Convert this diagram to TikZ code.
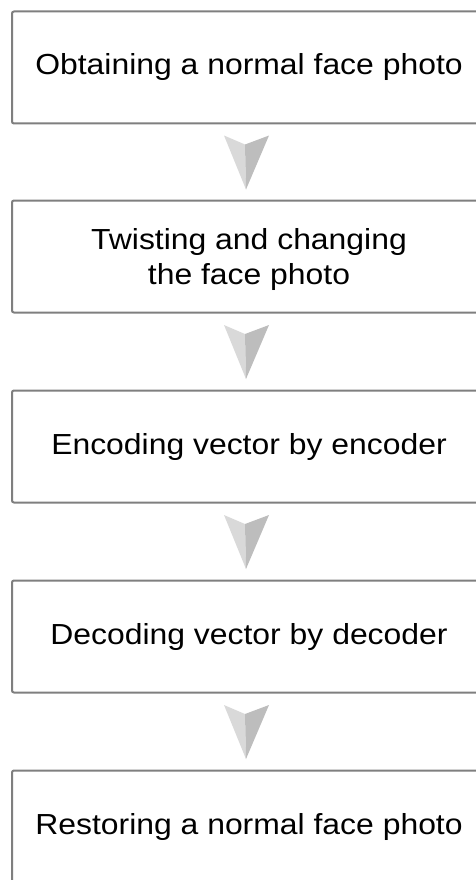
\documentclass[tikz,border=0pt]{standalone}
\usepackage{fontspec}
\setmainfont{Liberation Sans}[FakeStretch=1.1]
\usetikzlibrary{calc}

\tikzset{
  stepbox/.style={draw=boxgray, line width=2pt, rounded corners=2pt, fill=white,
    minimum width=474pt, minimum height=112pt, inner sep=0pt,
    align=center, text=black, font=\fontsize{29}{35}\selectfont},
  pics/flowarrow/.style={code={
    \fill[arrowlight] (-22,-26.5) -- (-1,-17.5) -- (0,27.5) -- cycle;
    \fill[arrowdark] (-1,-17.5) -- (23,-26.5) -- (0,27.5) -- cycle;
  }}
}
\definecolor{boxgray}{HTML}{7F7F7F}
\definecolor{arrowlight}{HTML}{D9D9D9}
\definecolor{arrowdark}{HTML}{BDBDBD}

\begin{document}
\begin{tikzpicture}[x=1pt,y=-1pt]
  \useasboundingbox (0,0) rectangle (476,880);
  \clip (0,0) rectangle (476,880);

  \node[stepbox] (s1) at (249,67.5) {Obtaining a normal face photo};
  \node[stepbox] (s2) at (249,256.5) {\rule{0pt}{27pt}Twisting and changing\\the face photo};
  \node[stepbox] (s3) at (249,446.5) {Encoding vector by encoder};
  \node[stepbox] (s4) at (249,636.5) {Decoding vector by decoder};
  \node[stepbox] (s5) at (249,826.5) {Restoring a normal face photo};

  % downward arrows between consecutive steps
  \foreach \a/\b in {s1/s2, s2/s3, s3/s4, s4/s5}
    \pic[xshift=-3pt] at ($(\a.south)!0.5!(\b.north)$) {flowarrow};
\end{tikzpicture}
\end{document}
